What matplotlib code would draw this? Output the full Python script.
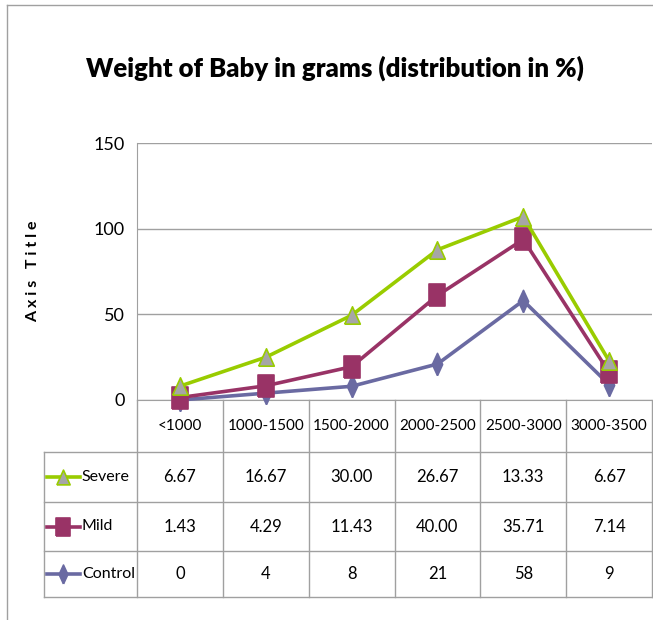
import matplotlib
matplotlib.use("Agg")
import matplotlib.pyplot as plt
import numpy as np

plt.rcParams['font.family'] = ['Lato', 'DejaVu Sans']

# data (distribution in %, stacked in the chart)
categories = ['<1000', '1000-1500', '1500-2000', '2000-2500', '2500-3000', '3000-3500']
control = [0, 4, 8, 21, 58, 9]
mild = [1.43, 4.29, 11.43, 40.00, 35.71, 7.14]
severe = [6.67, 16.67, 30.00, 26.67, 13.33, 6.67]
control_txt = ['0', '4', '8', '21', '58', '9']

W, H = 653, 620
fig = plt.figure(figsize=(W / 100, H / 100), dpi=100)

grid_c = '#A0A0A0'
green = '#99CC00'
mild_c = '#993366'
ctrl_c = '#6A6AA2'

tri = [(-0.45, -0.5), (0.45, -0.5), (0, 0.5), (-0.45, -0.5)]
sq = [(-0.38, -0.5), (0.38, -0.5), (0.38, 0.5), (-0.38, 0.5), (-0.38, -0.5)]
dia = [(0, -0.5), (0.23, 0), (0, 0.5), (-0.23, 0), (0, -0.5)]

series = [
    ('Control', control, ctrl_c, dia, 16, ctrl_c, ctrl_c),
    ('Mild', mild, mild_c, sq, 16, mild_c, mild_c),
    ('Severe', severe, green, tri, 12.5, '#A6A6A6', green),
]

# plot area in pixels
px0, px1, py_top, py0 = 137, 652, 143, 400
ax = fig.add_axes([px0 / W, (H - py0) / H, (px1 - px0) / W, (py0 - py_top) / H])
x = np.arange(len(categories))
stack = np.zeros(len(categories))
for name, vals, col, mk, ms, fc, ec in series:
    stack = stack + np.array(vals)
    ax.plot(x, stack, color=col, lw=2.6, marker=mk, ms=ms,
            markerfacecolor=fc, markeredgecolor=ec, markeredgewidth=1.2,
            clip_on=False, zorder=3)

ax.set_xlim(-0.5, len(categories) - 0.5)
ax.set_ylim(0, 150)
ax.set_yticks([0, 50, 100, 150])
ax.set_xticks([])
ax.yaxis.grid(True, color=grid_c, lw=1)
ax.set_axisbelow(True)
ax.tick_params(axis='y', length=0, pad=9, labelsize=13)
for s in ['top', 'right']:
    ax.spines[s].set_visible(False)
for s in ['left', 'bottom']:
    ax.spines[s].set_color(grid_c)
ax.set_ylabel('A x i s   T i t l e', fontsize=11.5, fontweight='bold', labelpad=38)

# data table below the plot
tx0, ty1 = 44, 597
colw = (px1 - px0) / len(categories)
legw = (px0 - tx0) / colw
tax = fig.add_axes([tx0 / W, (H - ty1) / H, (px1 - tx0) / W, (ty1 - py0) / H])
tax.set_xlim(-0.5 - legw, len(categories) - 0.5)
tax.set_ylim(ty1 - py0, 0)
tax.axis('off')

rows = [0, 52, 102, 151, 197]
lc = dict(color=grid_c, lw=1, clip_on=False)
for i in range(len(categories) + 1):
    tax.plot([i - 0.5, i - 0.5], [rows[0], rows[-1]], **lc)
tax.plot([-0.5 - legw, -0.5 - legw], [rows[1], rows[-1]], **lc)
for r in rows[1:]:
    tax.plot([-0.5 - legw, len(categories) - 0.5], [r, r], **lc)

for i, c in enumerate(categories):
    tax.text(i, (rows[0] + rows[1]) / 2, c, ha='center', va='center', fontsize=11)

table_rows = [
    ('Severe', [f'{v:.2f}' for v in severe], series[2]),
    ('Mild', [f'{v:.2f}' for v in mild], series[1]),
    ('Control', control_txt, series[0]),
]
lx = -0.5 - legw
for k, (name, txts, s) in enumerate(table_rows):
    yc = (rows[k + 1] + rows[k + 2]) / 2
    for i, t in enumerate(txts):
        tax.text(i, yc, t, ha='center', va='center', fontsize=12)
    _, _, col, mk, ms, fc, ec = s
    tax.plot([lx + 0.03, lx + 0.42], [yc, yc], color=col, lw=2.6, clip_on=False)
    tax.plot([lx + 0.22], [yc], marker=mk, ms=ms * 0.85, markerfacecolor=fc,
             markeredgecolor=ec, markeredgewidth=1.2, clip_on=False)
    tax.text(lx + 0.44, yc, name, ha='left', va='center', fontsize=11.5)

fig.text(335 / W, 1 - 68 / H, 'Weight of Baby in grams (distribution in %)',
         ha='center', va='center', fontsize=18.5, fontweight='heavy')

# outer chart border (partly visible)
fig.add_artist(plt.Line2D([7 / W, 7 / W], [0, 1 - 5 / H], color=grid_c, lw=1))
fig.add_artist(plt.Line2D([7 / W, 1], [1 - 5 / H, 1 - 5 / H], color=grid_c, lw=1))

fig.savefig('out.png', dpi=100)
